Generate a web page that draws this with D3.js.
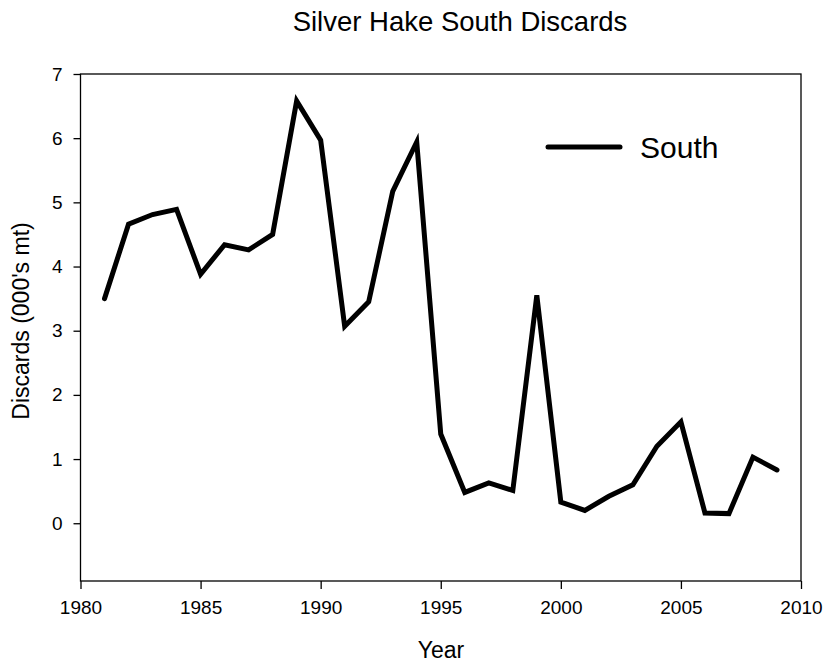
<!DOCTYPE html>
<html>
<head>
<meta charset="utf-8">
<script src="https://cdn.jsdelivr.net/npm/d3@7"></script>
<style>
  html, body { margin: 0; padding: 0; background: #fff; }
  svg { display: block; font-family: "Liberation Sans", Arial, sans-serif; }
</style>
</head>
<body>
<svg id="chart" width="827" height="663"></svg>
<script>
// Silver hake discards, southern stock (thousands of metric tons)
const years = [1981, 1982, 1983, 1984, 1985, 1986, 1987, 1988, 1989, 1990,
               1991, 1992, 1993, 1994, 1995, 1996, 1997, 1998, 1999, 2000,
               2001, 2002, 2003, 2004, 2005, 2006, 2007, 2008, 2009];
const southDiscards = [3.50, 4.66, 4.81, 4.89, 3.88, 4.34, 4.26, 4.50, 6.58, 5.97,
                       3.07, 3.45, 5.17, 5.94, 1.39, 0.48, 0.63, 0.51, 3.55, 0.33,
                       0.20, 0.42, 0.60, 1.20, 1.58, 0.16, 0.15, 1.03, 0.83];
const xTicks = [1980, 1985, 1990, 1995, 2000, 2005, 2010];
const yTicks = [0, 1, 2, 3, 4, 5, 6, 7];
const seriesName = "South";

const svg = d3.select("#chart");
const plotL = 80.5, plotR = 801, plotT = 74, plotB = 581;

const x = d3.scaleLinear().domain([1980, 2010]).range([plotL, plotR]);
const y = d3.scaleLinear().domain([-0.9, 7]).range([plotB, plotT]);

// Title
svg.append("text")
  .attr("x", 460).attr("y", 31)
  .attr("text-anchor", "middle")
  .style("font-size", "27.5px")
  .text("Silver Hake South Discards");

// Frame
svg.append("rect")
  .attr("x", plotL).attr("y", plotT)
  .attr("width", plotR - plotL).attr("height", plotB - plotT)
  .attr("fill", "none").attr("stroke", "#000").attr("stroke-width", 1.3);

// Axes
const xAxis = svg.append("g")
  .attr("transform", `translate(0,${plotB})`)
  .call(d3.axisBottom(x).tickValues(xTicks).tickFormat(d3.format("d")).tickSize(8).tickPadding(12));
const yAxis = svg.append("g")
  .attr("transform", `translate(${plotL},0)`)
  .call(d3.axisLeft(y).tickValues(yTicks).tickFormat(d3.format("d")).tickSize(7).tickPadding(11));

[xAxis, yAxis].forEach(g => {
  g.attr("font-size", null).attr("font-family", null);
  g.select(".domain").remove();
  g.selectAll("line").attr("stroke", "#000").attr("stroke-width", 1.3);
  g.selectAll("text").style("font-size", "19px").attr("fill", "#000");
});

// Axis titles
svg.append("text")
  .attr("x", 441).attr("y", 658)
  .attr("text-anchor", "middle")
  .style("font-size", "23px")
  .text("Year");

svg.append("text")
  .attr("transform", "translate(29,321) rotate(-90)")
  .attr("text-anchor", "middle")
  .style("font-size", "23px")
  .text("Discards (000's mt)");

// Series line
const line = d3.line()
  .x((d, i) => x(years[i]))
  .y(d => y(d));

svg.append("path")
  .datum(southDiscards)
  .attr("d", line)
  .attr("fill", "none")
  .attr("stroke", "#000")
  .attr("stroke-width", 5)
  .attr("stroke-linejoin", "miter")
  .attr("stroke-linecap", "round");

// Legend
svg.append("line")
  .attr("x1", 548).attr("x2", 620)
  .attr("y1", 147).attr("y2", 147)
  .attr("stroke", "#000").attr("stroke-width", 5)
  .attr("stroke-linecap", "round");
svg.append("text")
  .attr("x", 640).attr("y", 158)
  .style("font-size", "30px")
  .text(seriesName);
</script>
</body>
</html>
